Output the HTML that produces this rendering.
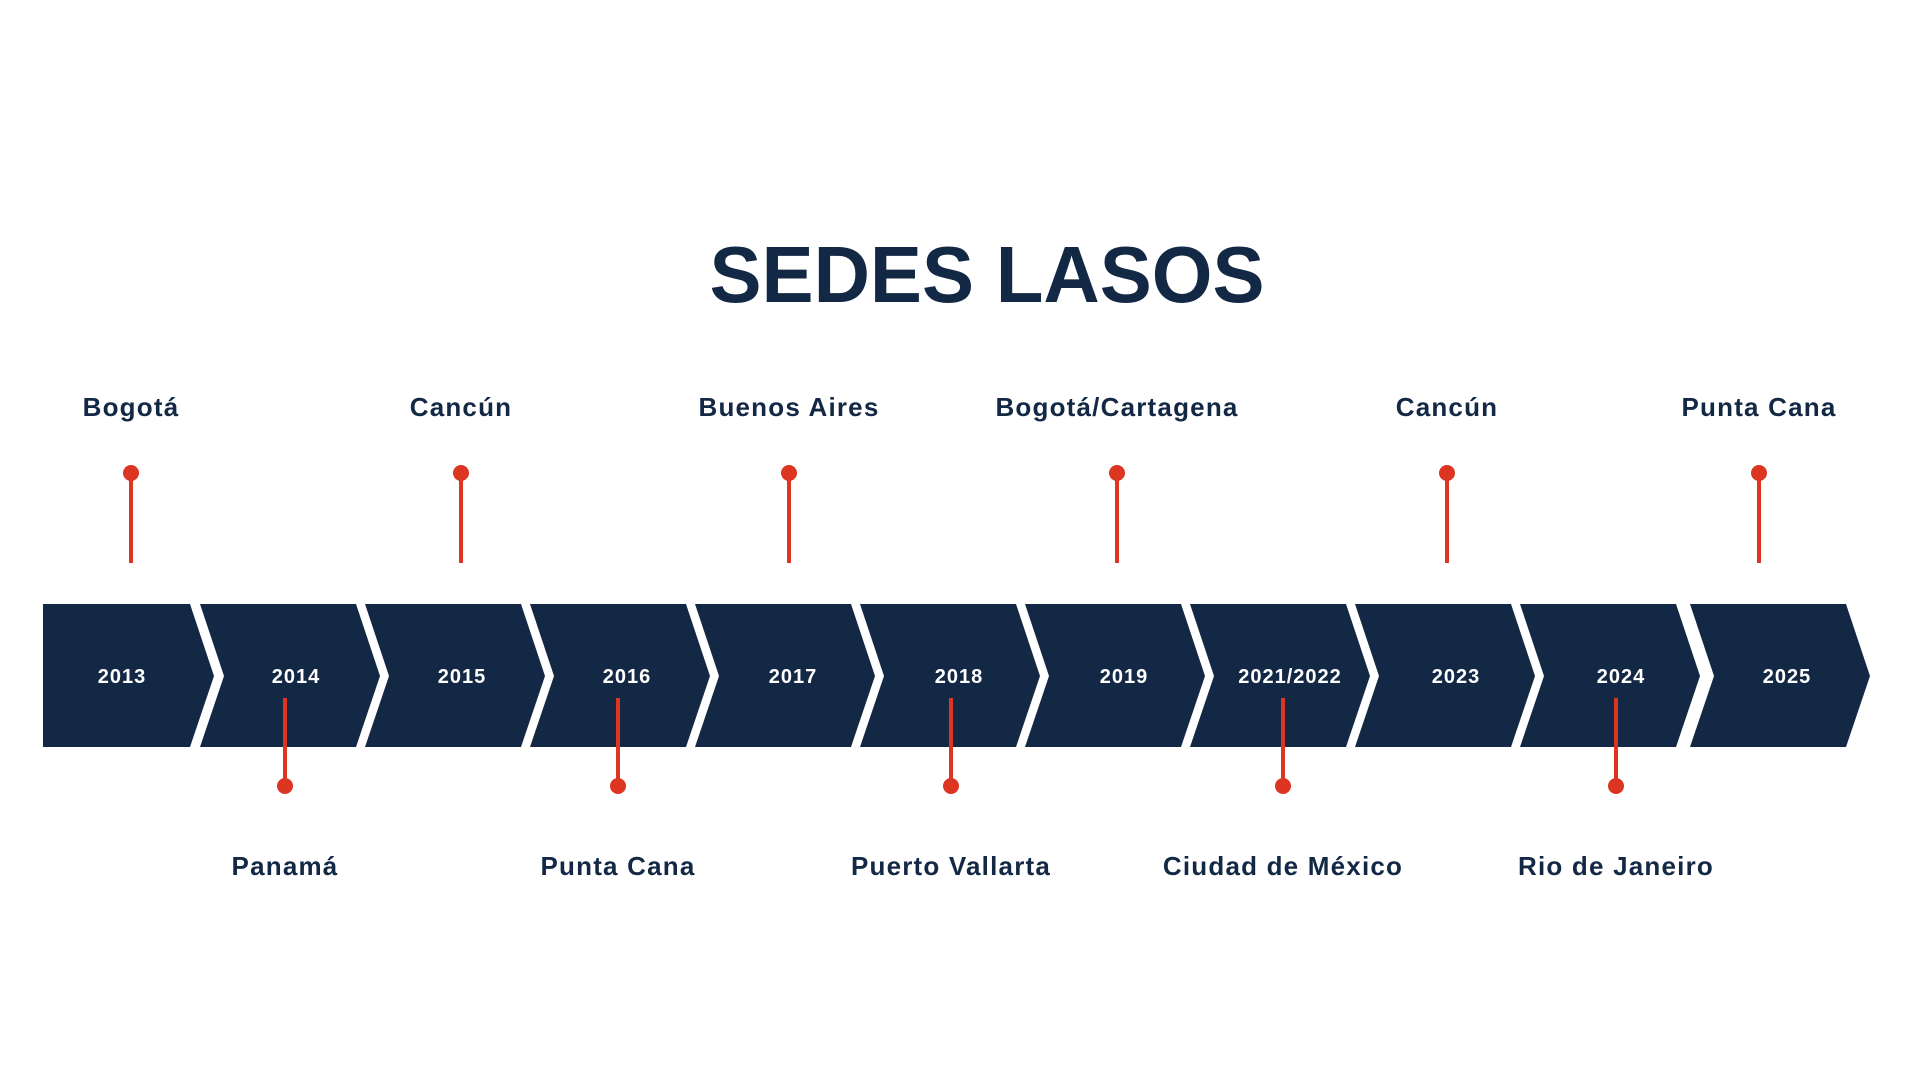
<!DOCTYPE html>
<html><head><meta charset="utf-8"><style>html,body{margin:0;padding:0;background:#fff}svg{display:block}</style></head>
<body>
<svg width="1920" height="1080" viewBox="0 0 1920 1080" xmlns="http://www.w3.org/2000/svg" font-family="Liberation Sans, sans-serif" font-weight="bold">
<text x="987" y="302" font-size="80" fill="#132844" text-anchor="middle" textLength="555" lengthAdjust="spacingAndGlyphs">SEDES LASOS</text>
<g fill="#132844">
<polygon points="43,604 190,604 214,676 190,747 43,747"/>
<polygon points="200,604 356,604 380,676 356,747 200,747 224,676"/>
<polygon points="365,604 521,604 545,676 521,747 365,747 389,676"/>
<polygon points="530,604 686,604 710,676 686,747 530,747 554,676"/>
<polygon points="695,604 851,604 875,676 851,747 695,747 719,676"/>
<polygon points="860,604 1016,604 1040,676 1016,747 860,747 884,676"/>
<polygon points="1025,604 1181,604 1205,676 1181,747 1025,747 1049,676"/>
<polygon points="1190,604 1346,604 1370,676 1346,747 1190,747 1214,676"/>
<polygon points="1355,604 1511,604 1535,676 1511,747 1355,747 1379,676"/>
<polygon points="1520,604 1676,604 1700,676 1676,747 1520,747 1544,676"/>
<polygon points="1690,604 1846,604 1870,676 1846,747 1690,747 1714,676"/>
</g>
<g fill="#fff" font-size="20" text-anchor="middle" letter-spacing="1">
<text x="122" y="683">2013</text>
<text x="296" y="683">2014</text>
<text x="462" y="683">2015</text>
<text x="627" y="683">2016</text>
<text x="793" y="683">2017</text>
<text x="959" y="683">2018</text>
<text x="1124" y="683">2019</text>
<text x="1290" y="683">2021/2022</text>
<text x="1456" y="683">2023</text>
<text x="1621" y="683">2024</text>
<text x="1787" y="683">2025</text>
</g>
<g stroke="#dc3522" stroke-width="4">
<line x1="131" y1="473" x2="131" y2="563"/><line x1="461" y1="473" x2="461" y2="563"/><line x1="789" y1="473" x2="789" y2="563"/><line x1="1117" y1="473" x2="1117" y2="563"/><line x1="1447" y1="473" x2="1447" y2="563"/><line x1="1759" y1="473" x2="1759" y2="563"/>
<line x1="285" y1="698" x2="285" y2="786"/><line x1="618" y1="698" x2="618" y2="786"/><line x1="951" y1="698" x2="951" y2="786"/><line x1="1283" y1="698" x2="1283" y2="786"/><line x1="1616" y1="698" x2="1616" y2="786"/>
</g>
<g fill="#dc3522">
<circle cx="131" cy="473" r="8"/><circle cx="461" cy="473" r="8"/><circle cx="789" cy="473" r="8"/><circle cx="1117" cy="473" r="8"/><circle cx="1447" cy="473" r="8"/><circle cx="1759" cy="473" r="8"/>
<circle cx="285" cy="786" r="8"/><circle cx="618" cy="786" r="8"/><circle cx="951" cy="786" r="8"/><circle cx="1283" cy="786" r="8"/><circle cx="1616" cy="786" r="8"/>
</g>
<g fill="#132844" font-size="26" text-anchor="middle" letter-spacing="1.2">
<text x="131" y="416">Bogotá</text>
<text x="461" y="416">Cancún</text>
<text x="789" y="416">Buenos Aires</text>
<text x="1117" y="416">Bogotá/Cartagena</text>
<text x="1447" y="416">Cancún</text>
<text x="1759" y="416">Punta Cana</text>
<text x="285" y="875">Panamá</text>
<text x="618" y="875">Punta Cana</text>
<text x="951" y="875">Puerto Vallarta</text>
<text x="1283" y="875">Ciudad de México</text>
<text x="1616" y="875">Rio de Janeiro</text>
</g>
</svg>
</body></html>
